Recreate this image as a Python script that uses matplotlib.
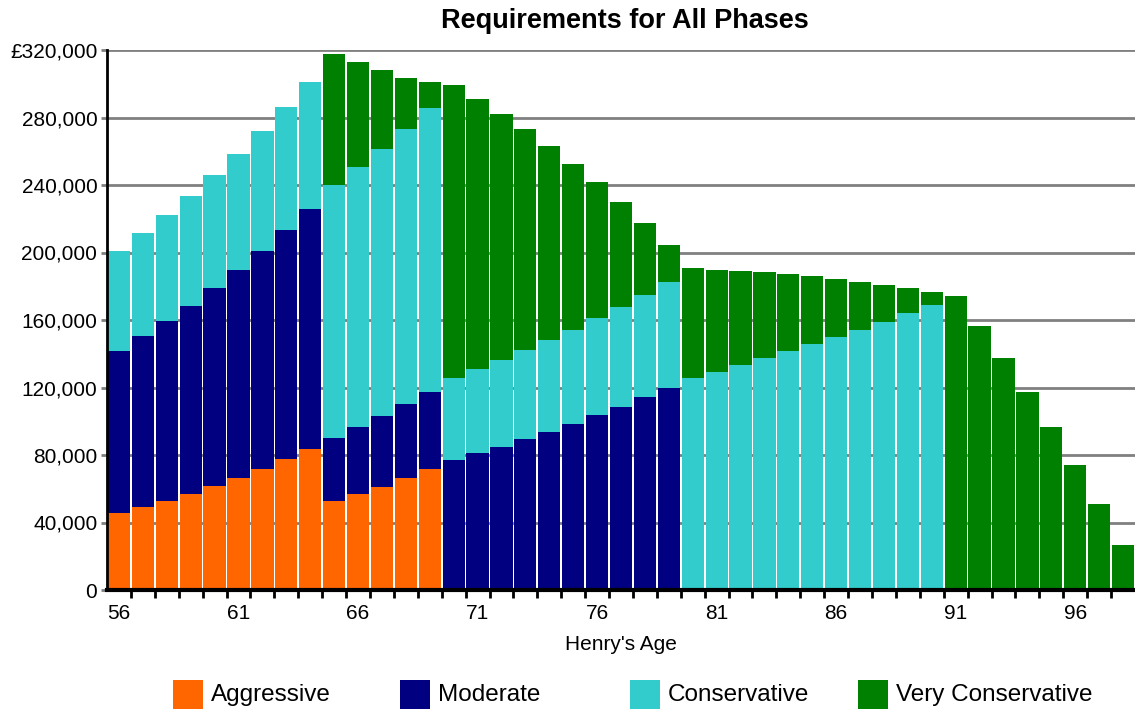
import matplotlib.pyplot as plt
import numpy as np
from matplotlib.patches import Rectangle
from matplotlib.ticker import FuncFormatter

plt.rcParams["font.family"] = ["Liberation Sans", "DejaVu Sans"]

ages = list(range(56, 99))

# segment values per phase, one per age 56..98
aggressive = [45600, 49200, 52700, 56900, 61600, 66400, 71700, 77600, 83600,
              52700, 56900, 61000, 66400, 71700] + [0] * 29
moderate = [96000, 101300, 106700, 111400, 117400, 123200, 129200, 135700, 142200,
            37400, 39700, 42100, 43800, 45600,
            77000, 81200, 84700, 89500, 93600, 98400, 103700, 108400, 114400, 119700] + [0] * 19
conservative = [59400, 61100, 62800, 65200, 66900, 68800, 71100, 72900, 75200,
                149900, 154100, 158200, 163000, 168300,
                48600, 49800, 51600, 52700, 54500, 55700, 57500, 59300, 60400, 62800,
                125600, 129200, 133300, 137500, 141600, 145800, 149900, 154100, 158800,
                164100, 168900] + [0] * 8
very_conservative = [0] * 9 + [77600, 62200, 46900, 30200, 15400,
                               173700, 160000, 145700, 131000, 115000, 98300, 80600,
                               62200, 42700, 21900,
                               65200, 60400, 55700, 50900, 45700, 40300, 34400, 28400,
                               21900, 14900, 7700,
                               174200, 156400, 137500, 117300, 96600, 74100, 51000, 26700]

series = [("Aggressive", aggressive, "#FF6600"),
          ("Moderate", moderate, "#000080"),
          ("Conservative", conservative, "#33CCCC"),
          ("Very Conservative", very_conservative, "#008000")]

W, H = 1135, 709
fig = plt.figure(figsize=(W / 100, H / 100), dpi=100)
ax = fig.add_axes([107 / W, 1 - 590 / H, (1135 - 107) / W, 540 / H])

bottom = np.zeros(len(ages))
for name, vals, color in series:
    vals = np.array(vals, dtype=float)
    ax.bar(ages, vals, bottom=bottom, width=0.93, color=color, linewidth=0, zorder=3)
    bottom += vals

ax.set_xlim(55.5, 98.5)
ax.set_ylim(0, 320000)
ax.set_yticks(np.arange(0, 320001, 40000))
ax.yaxis.set_major_formatter(FuncFormatter(
    lambda v, p: "£{:,.0f}".format(v) if v == 320000 else "{:,.0f}".format(v)))
ax.grid(axis="y", color="#808080", linewidth=2, zorder=1)
ax.tick_params(axis="y", length=4, width=2, color="#808080", labelsize=15, pad=3)

ax.set_xticks(range(56, 99, 5))
ax.set_xticks(np.arange(56.5, 98.5, 1), minor=True)
ax.tick_params(axis="x", which="major", length=0, labelsize=15, pad=10)
ax.tick_params(axis="x", which="minor", length=6, width=2, color="black")

for s in ["top", "right"]:
    ax.spines[s].set_visible(False)
ax.spines["left"].set_linewidth(2)
ax.spines["bottom"].set_linewidth(3)
ax.spines["left"].set_zorder(4)
ax.spines["bottom"].set_zorder(4)

ax.set_xlabel("Henry's Age", fontsize=15, labelpad=9)
fig.text(625 / W, 1 - 21 / H, "Requirements for All Phases", ha="center", va="center",
         fontsize=19.5, fontweight="bold")

# legend laid out as in the original, equal slots
legend_x = [173, 400, 630, 858]
for (name, vals, color), lx in zip(series, legend_x):
    fig.add_artist(Rectangle((lx / W, 0), 30 / W, 29 / H,
                             transform=fig.transFigure, color=color, linewidth=0))
    fig.text((lx + 38) / W, 1 - 695 / H, name, ha="left", va="center", fontsize=17.5)

fig.savefig("out.png", dpi=100)
